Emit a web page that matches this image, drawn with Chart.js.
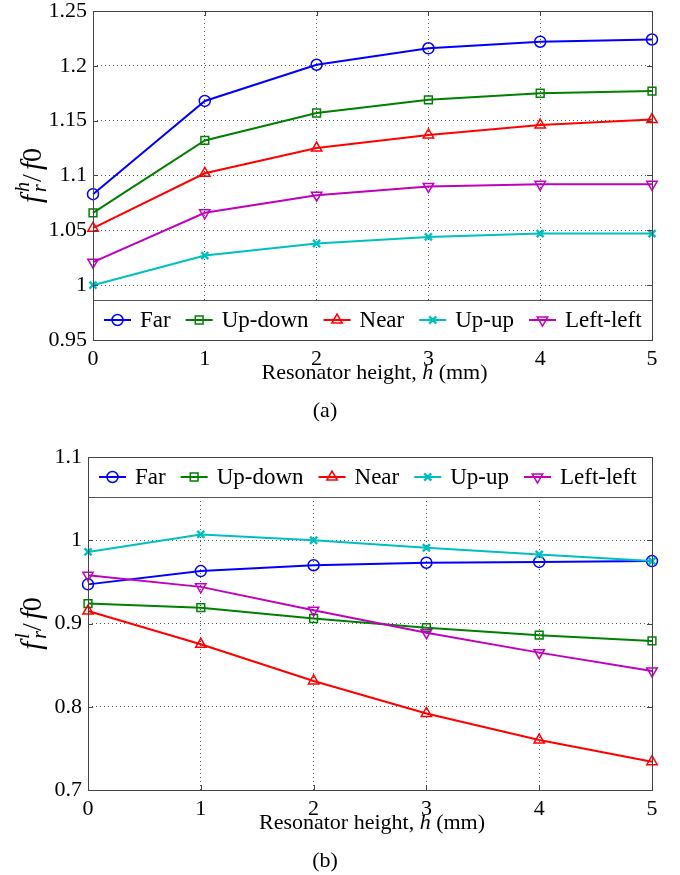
<!DOCTYPE html>
<html>
<head>
<meta charset="utf-8">
<script src="https://cdn.jsdelivr.net/npm/chart.js@4.4.0/dist/chart.umd.min.js"></script>
<style>
  html, body { margin: 0; padding: 0; background: #fff; }
  #page { position: relative; width: 680px; height: 875px; overflow: hidden; }
  canvas { position: absolute; left: 0; }
  /* top tick label + padding pushes the plot down 6px, so lift the canvas */
  #chartHigh { top: -6px; }
  #chartLow { top: 430px; }
</style>
</head>
<body>
<div id="page">
  <canvas id="chartHigh" width="680" height="436"></canvas>
  <canvas id="chartLow" width="680" height="445"></canvas>
</div>
<script>
// Resonator heights (mm)
const heights = [0, 1, 2, 3, 4, 5];
const seriesNames = ['Far', 'Up-down', 'Near', 'Up-up', 'Left-left'];

// upper resonance, f_r^h / f0
const farHigh      = [1.083, 1.168, 1.201, 1.216, 1.222, 1.224];
const upDownHigh   = [1.066, 1.132, 1.157, 1.169, 1.175, 1.177];
const nearHigh     = [1.052, 1.102, 1.125, 1.137, 1.146, 1.151];
const upUpHigh     = [1.000, 1.027, 1.038, 1.044, 1.047, 1.047];
const leftLeftHigh = [1.021, 1.066, 1.082, 1.090, 1.092, 1.092];

// lower resonance, f_r^l / f0
const farLow      = [0.947, 0.963, 0.970, 0.973, 0.974, 0.975];
const upDownLow   = [0.924, 0.919, 0.906, 0.895, 0.886, 0.879];
const nearLow     = [0.915, 0.875, 0.831, 0.792, 0.760, 0.734];
const upUpLow     = [0.986, 1.007, 1.000, 0.991, 0.983, 0.975];
const leftLeftLow = [0.958, 0.944, 0.916, 0.889, 0.865, 0.843];

// tick values
const xTicks = [0, 1, 2, 3, 4, 5];
const yTicksHigh = [0.95, 1, 1.05, 1.1, 1.15, 1.2, 1.25];
const yTicksLow = [0.7, 0.8, 0.9, 1, 1.1];

// line colours and markers (MATLAB style)
const seriesColors = ['#0000ff', '#008000', '#ff0000', '#00bfbf', '#bf00bf'];
const markerStyles = [
  { pointStyle: 'circle', radius: 5.5, rotation: 0, width: 1.5 },
  { pointStyle: 'rect', radius: 5.5, rotation: 0, width: 1.5 },
  { pointStyle: 'triangle', radius: 6, rotation: 0, width: 1.5 },
  { pointStyle: 'crossRot', radius: 5, rotation: 0, width: 2.4 },
  { pointStyle: 'triangle', radius: 6, rotation: 180, width: 1.5 }
];

const SERIF = '"Liberation Serif", "Times New Roman", serif';
const FRAME_COLOR = '#444';

// inward tick marks on all four sides
function drawTickMarks(chart) {
  const ctx = chart.ctx;
  const area = chart.chartArea;
  const xs = chart.scales.x;
  const ys = chart.scales.y;
  ctx.save();
  ctx.strokeStyle = FRAME_COLOR;
  ctx.lineWidth = 1;
  ctx.beginPath();
  xs.ticks.forEach(t => {
    const px = Math.round(xs.getPixelForValue(t.value)) + 0.5;
    ctx.moveTo(px, area.bottom); ctx.lineTo(px, area.bottom - 5);
    ctx.moveTo(px, area.top); ctx.lineTo(px, area.top + 5);
  });
  ys.ticks.forEach(t => {
    const py = Math.round(ys.getPixelForValue(t.value)) + 0.5;
    ctx.moveTo(area.left, py); ctx.lineTo(area.left + 5, py);
    ctx.moveTo(area.right, py); ctx.lineTo(area.right - 5, py);
  });
  ctx.stroke();
  ctx.restore();
}

// boxed legend inside the axes
function drawLegend(chart, atTop) {
  const ctx = chart.ctx;
  const area = chart.chartArea;
  const boxH = 40;
  const y0 = atTop ? area.top : area.bottom - boxH;
  ctx.save();
  ctx.fillStyle = '#fff';
  ctx.fillRect(area.left, y0, area.right - area.left, boxH);
  ctx.strokeStyle = '#555';
  ctx.lineWidth = 1;
  ctx.strokeRect(Math.round(area.left) + 0.5, Math.round(y0) + 0.5,
    Math.round(area.right - area.left), boxH);

  const cy = y0 + boxH / 2;
  ctx.font = '23px ' + SERIF;
  ctx.textBaseline = 'middle';
  let x = area.left + 11;
  seriesNames.forEach((name, i) => {
    const m = markerStyles[i];
    ctx.strokeStyle = seriesColors[i];
    ctx.lineWidth = 2;
    ctx.beginPath();
    ctx.moveTo(x, cy);
    ctx.lineTo(x + 27, cy);
    ctx.stroke();
    ctx.lineWidth = m.width;
    ctx.fillStyle = 'rgba(0,0,0,0)';
    Chart.helpers.drawPoint(ctx, {
      pointStyle: m.pointStyle, radius: m.radius, rotation: m.rotation, borderWidth: m.width
    }, x + 13.5, cy);
    ctx.fillStyle = '#000';
    ctx.fillText(name, x + 36, cy + 1);
    x += 36 + ctx.measureText(name).width + 15;
  });
  ctx.restore();
}

function drawFrame(chart) {
  const ctx = chart.ctx;
  const a = chart.chartArea;
  ctx.save();
  ctx.strokeStyle = FRAME_COLOR;
  ctx.lineWidth = 1;
  ctx.strokeRect(Math.round(a.left) + 0.5, Math.round(a.top) + 0.5,
    Math.round(a.right - a.left), Math.round(a.bottom - a.top));
  ctx.restore();
}

// "Resonator height, h (mm)" with italic h
function drawXTitle(chart, baseline) {
  const ctx = chart.ctx;
  const a = chart.chartArea;
  const parts = [['Resonator height, ', ''], ['h', 'italic '], [' (mm)', '']];
  ctx.save();
  ctx.fillStyle = '#000';
  ctx.textBaseline = 'alphabetic';
  let total = 0;
  parts.forEach(p => { ctx.font = p[1] + '22px ' + SERIF; total += ctx.measureText(p[0]).width; });
  let x = (a.left + a.right) / 2 - total / 2 + 2;
  parts.forEach(p => {
    ctx.font = p[1] + '22px ' + SERIF;
    ctx.fillText(p[0], x, baseline);
    x += ctx.measureText(p[0]).width;
  });
  ctx.restore();
}

// rotated f_r^sup / f0
function drawYTitle(chart, cx, sup) {
  const ctx = chart.ctx;
  const a = chart.chartArea;
  const cy = (a.top + a.bottom) / 2;
  const bigIt = 'italic 29px ' + SERIF;
  const big = '28px ' + SERIF;
  const small = 'italic 20px ' + SERIF;
  ctx.save();
  ctx.translate(cx, cy);
  ctx.rotate(-Math.PI / 2);
  ctx.fillStyle = '#000';
  ctx.textBaseline = 'alphabetic';

  ctx.font = bigIt; const wf = ctx.measureText('f').width;
  ctx.font = small; const ws = Math.max(ctx.measureText(sup).width, ctx.measureText('r').width);
  ctx.font = big; const wsl = ctx.measureText('/').width;
  ctx.font = bigIt; const wf2 = ctx.measureText('f').width;
  ctx.font = big; const w0 = ctx.measureText('0').width;
  const gap = 4;
  const total = wf + 3 + ws + wsl + gap + wf2 + w0;
  const base = 8;
  let x = -total / 2;

  ctx.font = bigIt; ctx.fillText('f', x, base); x += wf + 3;
  ctx.font = small;
  ctx.fillText(sup, x, base - 12);
  ctx.fillText('r', x, base + 5);
  x += ws;
  ctx.font = big; ctx.fillText('/', x, base); x += wsl + gap;
  ctx.font = bigIt; ctx.fillText('f', x, base); x += wf2;
  ctx.font = big; ctx.fillText('0', x, base);
  ctx.restore();
}

function drawCaption(chart, text, cx, baseline) {
  const ctx = chart.ctx;
  ctx.save();
  ctx.fillStyle = '#000';
  ctx.font = '22px ' + SERIF;
  ctx.textAlign = 'center';
  ctx.textBaseline = 'alphabetic';
  ctx.fillText(text, cx, baseline);
  ctx.restore();
}

function tickLabel(v) {
  return String(Number(v.toFixed(2)));
}

function createFigure(canvasId, seriesValues, cfg) {
  const ctx = document.getElementById(canvasId).getContext('2d');
  const datasets = seriesValues.map((vals, i) => ({
    label: seriesNames[i],
    data: heights.map((h, k) => ({ x: h, y: vals[k] })),
    borderColor: seriesColors[i],
    backgroundColor: seriesColors[i],
    borderWidth: 2,
    pointStyle: markerStyles[i].pointStyle,
    pointRadius: markerStyles[i].radius,
    pointRotation: markerStyles[i].rotation,
    pointBorderWidth: markerStyles[i].width,
    pointBorderColor: seriesColors[i],
    pointBackgroundColor: 'rgba(0,0,0,0)',
    tension: 0,
    clip: false,
    order: seriesNames.length - i
  }));

  const decor = {
    id: 'decor',
    afterDraw(chart) {
      drawTickMarks(chart);
      drawLegend(chart, cfg.legendAtTop);
      drawFrame(chart);
      drawXTitle(chart, cfg.titleBaseline);
      drawYTitle(chart, 33, cfg.sup);
      drawCaption(chart, cfg.caption, 325, cfg.captionBaseline);
    }
  };

  return new Chart(ctx, {
    type: 'line',
    data: { datasets: datasets },
    options: {
      responsive: false,
      animation: false,
      devicePixelRatio: 1,
      layout: { padding: { top: cfg.top, right: 28, bottom: 0, left: 0 } },
      plugins: { legend: { display: false }, tooltip: { enabled: false } },
      scales: {
        x: {
          type: 'linear',
          min: 0,
          max: 5,
          afterBuildTicks: s => { s.ticks = xTicks.map(v => ({ value: v })); },
          afterFit: s => { s.height = cfg.xAxisHeight; },
          grid: { color: '#555', lineWidth: 1, drawTicks: false },
          border: { display: false, dash: [1, 3] },
          ticks: {
            color: '#000',
            padding: 8,
            maxRotation: 0,
            autoSkip: false,
            font: { family: SERIF, size: 22, lineHeight: 1 },
            callback: v => tickLabel(v)
          }
        },
        y: {
          min: cfg.yTicks[0],
          max: cfg.yTicks[cfg.yTicks.length - 1],
          afterBuildTicks: s => { s.ticks = cfg.yTicks.map(v => ({ value: v })); },
          afterFit: s => { s.width = cfg.left; },
          grid: { color: '#555', lineWidth: 1, drawTicks: false },
          border: { display: false, dash: [1, 3] },
          ticks: {
            color: '#000',
            padding: 6,
            autoSkip: false,
            font: { family: SERIF, size: 22, lineHeight: 1 },
            callback: v => tickLabel(v)
          }
        }
      }
    },
    plugins: [decor]
  });
}

createFigure('chartHigh',
  [farHigh, upDownHigh, nearHigh, upUpHigh, leftLeftHigh],
  { yTicks: yTicksHigh, left: 93, top: 11, xAxisHeight: 90, legendAtTop: false,
    sup: 'h', caption: '(a)', titleBaseline: 385, captionBaseline: 423 });

createFigure('chartLow',
  [farLow, upDownLow, nearLow, upUpLow, leftLeftLow],
  { yTicks: yTicksLow, left: 88, top: 27, xAxisHeight: 85, legendAtTop: true,
    sup: 'l', caption: '(b)', titleBaseline: 399, captionBaseline: 437 });
</script>
</body>
</html>
